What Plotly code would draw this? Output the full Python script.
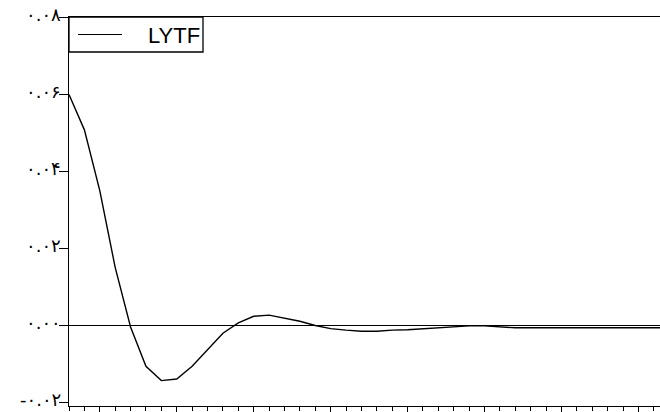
import plotly.graph_objects as go

series_name = "LYTF"
periods = list(range(1, 41))
values = [0.0600, 0.0508, 0.0350, 0.0151, -0.0004, -0.0106, -0.0143, -0.0139, -0.0106, -0.0064,
          -0.0020, 0.0007, 0.0024, 0.0027, 0.0019, 0.0011, 0.0000, -0.0008, -0.0012, -0.0015,
          -0.0015, -0.0012, -0.0011, -0.0008, -0.0006, -0.0003, -0.0001, -0.0001, -0.0004, -0.0006,
          -0.0006, -0.0006, -0.0006, -0.0006, -0.0006, -0.0006, -0.0006, -0.0006, -0.0006, -0.0006]

y_tick_vals = [0.08, 0.06, 0.04, 0.02, 0.00, -0.02]
y_tick_text = ["\u06f0.\u06f0\u06f8", "\u06f0.\u06f0\u06f6", "\u06f0.\u06f0\u06f4",
               "\u06f0.\u06f0\u06f2", "\u06f0.\u06f0\u06f0", "-\u06f0.\u06f0\u06f2"]

fig = go.Figure()
fig.add_trace(go.Scatter(x=periods, y=values, mode="lines", name=series_name,
                         line=dict(color="black", width=1.4), showlegend=False))

annotations = []
for v, t in zip(y_tick_vals, y_tick_text):
    annotations.append(dict(x=0, xref="paper", y=v, yref="y", text=t, showarrow=False,
                            xanchor="right", yanchor="middle", xshift=-7, yshift=3,
                            borderpad=0,
                            font=dict(family="DejaVu Sans", size=18, color="black")))
annotations.append(dict(x=148, xref="paper", y=1, yref="paper", text=series_name, showarrow=False))

fig.update_layout(
    width=660, height=412,
    margin=dict(l=69, r=0, t=17, b=6),
    paper_bgcolor="white", plot_bgcolor="white",
    showlegend=False,
    xaxis=dict(range=[1, 39.4], showgrid=False, zeroline=False, showline=True, linecolor="black",
               linewidth=1.3, mirror=True, tickmode="linear", tick0=3, dtick=5, ticks="outside",
               ticklen=7, tickwidth=1.2, tickcolor="black", showticklabels=False, automargin=False,
               minor=dict(ticks="outside", tick0=1, dtick=1, ticklen=4, tickwidth=1.2,
                          tickcolor="black", showgrid=False)),
    yaxis=dict(range=[-0.0209, 0.0801], showgrid=False, zeroline=True, zerolinecolor="black",
               zerolinewidth=1.2, showline=True, linecolor="black", linewidth=1.3,
               tickmode="array", tickvals=y_tick_vals, ticks="outside", ticklen=9, tickwidth=1.2,
               tickcolor="black", showticklabels=False, automargin=False),
)

pw, ph = 591.0, 389.0
def px_x(p):
    return (p - 69) / pw
def px_y(p):
    return 1 - (p - 17) / ph

fig.add_shape(type="rect", xref="paper", yref="paper", x0=px_x(69), x1=px_x(203),
              y0=px_y(52), y1=px_y(17), line=dict(color="black", width=1.3), fillcolor="white")
fig.add_shape(type="line", xref="paper", yref="paper", x0=px_x(78), x1=px_x(122),
              y0=px_y(34.5), y1=px_y(34.5), line=dict(color="black", width=1.2))
annotations[-1].update(x=px_x(202), y=px_y(35), xanchor="right", yanchor="middle",
                       font=dict(family="Liberation Sans", size=22, color="black"))
fig.update_layout(annotations=annotations)

fig.write_html("out.html", config={"displayModeBar": False},
               post_script="document.body.style.margin='0';document.body.style.overflow='hidden';")
